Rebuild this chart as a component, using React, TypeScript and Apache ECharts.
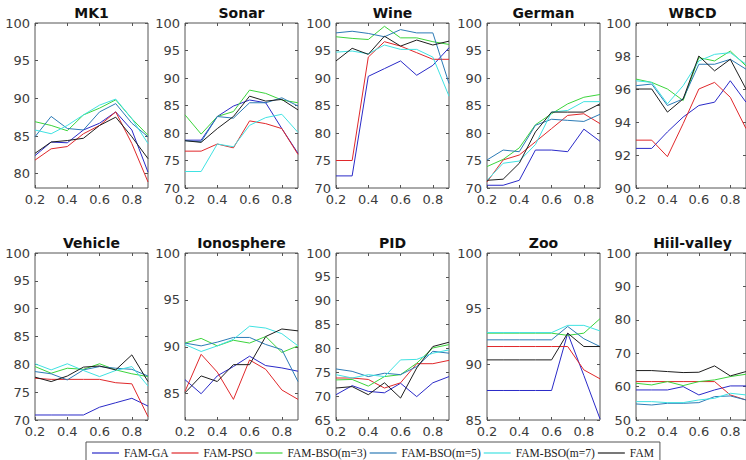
import React, { useEffect, useRef } from "react";
import * as echarts from "echarts";

const X_VALUES = [0.2, 0.3, 0.4, 0.5, 0.6, 0.7, 0.8, 0.9];
const X_TICKS = [0.2, 0.4, 0.6, 0.8];
const METHODS = ["FAM-GA", "FAM-PSO", "FAM-BSO(m=3)", "FAM-BSO(m=5)", "FAM-BSO(m=7)", "FAM"];
const COLORS = ["#2a2ac8", "#e0282b", "#3cd43c", "#2c7bb6", "#40e2e2", "#1e1e1e"];
const DATASETS = ["MK1", "Sonar", "Wine", "German", "WBCD", "Vehicle", "Ionosphere", "PID", "Zoo", "Hiil-valley"];

// order of rows in every dataset: GA, PSO, BSO(m=3), BSO(m=5), BSO(m=7), FAM
const MK1 = [
  [82.4, 84.2, 84.1, 85.8, 86.7, 88.2, 85.8, 80.2],
  [81.8, 83.3, 83.6, 85.3, 86.4, 88.2, 84.0, 78.9],
  [86.9, 86.4, 85.7, 87.8, 88.7, 89.8, 87.3, 85.1],
  [84.9, 87.6, 86.0, 85.8, 88.2, 89.3, 86.7, 84.9],
  [85.8, 85.3, 86.4, 87.8, 89.1, 89.9, 87.3, 84.0],
  [82.7, 84.2, 84.4, 84.7, 86.4, 87.5, 84.9, 82.0],
];
const SONAR = [
  [78.7, 78.7, 83.0, 84.9, 86.0, 85.5, 80.8, 76.3],
  [76.7, 76.7, 78.0, 77.3, 82.2, 81.7, 80.8, 76.1],
  [83.3, 79.8, 83.0, 83.9, 87.8, 87.2, 86.0, 85.5],
  [78.6, 78.4, 83.0, 82.7, 85.5, 85.5, 86.4, 84.9],
  [73.0, 73.0, 78.0, 77.5, 81.4, 82.8, 83.4, 80.1],
  [78.6, 78.3, 80.8, 83.0, 86.7, 85.8, 86.1, 84.2],
];
const WINE = [
  [72.2, 72.2, 90.3, 91.7, 93.1, 90.5, 92.3, 95.5],
  [75.0, 75.0, 93.8, 96.6, 95.8, 94.6, 93.4, 93.4],
  [97.5, 97.2, 97.0, 99.4, 97.3, 97.3, 96.6, 96.1],
  [98.2, 98.5, 98.1, 97.5, 98.8, 98.2, 98.2, 89.0],
  [94.7, 94.9, 94.4, 96.0, 95.2, 95.2, 93.8, 86.7],
  [93.1, 95.4, 94.3, 97.6, 95.8, 96.9, 96.0, 96.7],
];
const GERMAN = [
  [70.5, 70.5, 71.4, 76.9, 76.9, 76.6, 80.7, 78.5],
  [71.1, 75.1, 76.0, 78.4, 80.8, 83.2, 83.5, 81.7],
  [73.9, 75.2, 77.3, 81.5, 83.5, 85.3, 86.5, 87.0],
  [75.1, 76.9, 76.6, 81.4, 82.5, 82.3, 82.1, 83.4],
  [71.4, 74.5, 74.9, 77.9, 83.8, 84.1, 85.7, 85.7],
  [71.4, 71.6, 74.5, 80.2, 83.8, 83.8, 83.8, 85.3],
];
const WBCD = [
  [92.4, 92.4, 93.4, 94.3, 95.0, 95.2, 96.5, 95.2],
  [92.9, 92.9, 91.9, 93.9, 96.0, 96.4, 95.5, 93.6],
  [96.6, 96.4, 96.0, 95.3, 97.9, 97.7, 98.3, 97.4],
  [96.2, 96.3, 95.0, 95.4, 97.5, 97.5, 97.8, 97.2],
  [96.5, 96.4, 95.1, 96.2, 97.7, 98.1, 98.2, 97.5],
  [96.0, 96.0, 94.6, 95.4, 98.0, 97.1, 97.8, 96.0],
];
const VEHICLE = [
  [70.9, 70.9, 70.9, 70.9, 72.3, 73.1, 73.9, 72.5],
  [77.5, 77.3, 77.3, 77.3, 77.3, 76.7, 76.5, 70.6],
  [79.6, 78.4, 79.3, 79.1, 80.1, 79.0, 78.3, 77.8],
  [78.7, 78.3, 77.2, 79.0, 79.6, 79.3, 79.1, 77.9],
  [80.1, 79.0, 80.1, 78.9, 77.8, 78.9, 79.6, 76.1],
  [77.7, 76.9, 77.9, 79.5, 79.7, 79.0, 81.7, 76.9],
];
const IONOSPHERE = [
  [86.5, 85.0, 86.9, 87.9, 89.0, 88.0, 87.75, 87.4],
  [85.25, 89.2, 87.3, 84.4, 88.6, 87.6, 85.4, 84.4],
  [90.4, 90.9, 90.1, 90.7, 90.4, 91.1, 89.4, 90.1],
  [90.4, 90.1, 90.5, 91.0, 91.0, 90.25, 89.7, 86.3],
  [90.25, 89.5, 90.1, 90.8, 92.2, 92.0, 91.4, 90.1],
  [85.1, 86.9, 86.3, 88.1, 88.1, 91.1, 91.9, 91.7],
];
const PID = [
  [70.3, 72.2, 71.0, 70.7, 72.7, 69.9, 72.8, 74.1],
  [73.8, 73.8, 73.5, 71.7, 72.8, 76.8, 76.8, 77.5],
  [73.4, 73.5, 72.1, 74.1, 74.5, 76.9, 80.1, 80.8],
  [75.7, 75.2, 74.1, 74.8, 74.5, 76.2, 79.4, 79.0],
  [74.5, 73.8, 74.5, 74.1, 77.6, 77.7, 79.0, 79.7],
  [71.7, 72.0, 70.3, 72.8, 69.6, 75.9, 80.4, 81.3],
];
const ZOO = [
  [87.65, 87.65, 87.65, 87.65, 87.65, 92.8, 89.0, 85.1],
  [91.6, 91.6, 91.6, 91.6, 91.6, 91.6, 89.5, 88.7],
  [92.8, 92.8, 92.8, 92.8, 92.8, 92.6, 92.8, 94.1],
  [92.2, 92.2, 92.2, 92.2, 92.2, 93.4, 92.3, 91.6],
  [92.85, 92.85, 92.85, 92.85, 92.85, 93.5, 93.5, 93.0],
  [90.4, 90.4, 90.4, 90.4, 90.4, 92.8, 91.6, 91.6],
];
const HILL_VALLEY = [
  [59.0, 59.0, 59.0, 60.0, 57.5, 59.0, 60.2, 60.2],
  [61.5, 61.5, 61.5, 61.5, 61.5, 61.5, 57.5, 56.0],
  [61.0, 60.5, 61.5, 60.3, 61.5, 62.0, 63.0, 63.7],
  [54.8, 54.5, 55.0, 55.0, 55.2, 57.0, 57.2, 56.0],
  [55.5, 55.5, 55.2, 55.2, 56.0, 56.5, 58.0, 57.5],
  [64.8, 64.8, 64.5, 64.2, 64.3, 66.2, 63.2, 64.5],
];
const ALL_DATA = [MK1, SONAR, WINE, GERMAN, WBCD, VEHICLE, IONOSPHERE, PID, ZOO, HILL_VALLEY];

const Y_MIN = [78.1, 70, 70, 70, 90, 70, 82.2, 65, 85, 50];
const Y_MAX = [100, 100, 100, 100, 100, 100, 100, 100, 100, 100];
const Y_TICKS = [
  [80, 85, 90, 95, 100],
  [70, 75, 80, 85, 90, 95, 100],
  [70, 75, 80, 85, 90, 95, 100],
  [70, 75, 80, 85, 90, 95, 100],
  [90, 92, 94, 96, 98, 100],
  [70, 75, 80, 85, 90, 95, 100],
  [85, 90, 95, 100],
  [65, 70, 75, 80, 85, 90, 95, 100],
  [85, 90, 95, 100],
  [50, 60, 70, 80, 90, 100],
];

// layout (pixels)
const COL_LEFT = [35, 185, 336, 487, 636];
const ROW_TOP = [23, 253];
const ROW_HEIGHT = [165, 167];
const PLOT_W = 113;
const TITLE_Y = [12.5, 243];
const AXIS_COLOR = "#555555";
const LABEL_COLOR = "#3c3c3c";
const SANS = "DejaVu Sans";

export default function App() {
  const ref = useRef<HTMLDivElement>(null);
  useEffect(() => {
    if (!ref.current) return;
    const chart = echarts.init(ref.current, undefined, { renderer: "svg" });
    const grids: any[] = [];
    const xAxes: any[] = [];
    const yAxes: any[] = [];
    const xTop: any[] = [];
    const yRight: any[] = [];
    const series: any[] = [];
    const graphics: any[] = [];
    const tickStyle = { show: true, inside: true, length: 3, lineStyle: { color: AXIS_COLOR, width: 1 } };
    DATASETS.forEach((name, i) => {
      const row = Math.floor(i / 5);
      const col = i % 5;
      const left = COL_LEFT[col];
      const top = ROW_TOP[row];
      const height = ROW_HEIGHT[row];
      grids.push({ left, top, width: PLOT_W, height, show: true, borderColor: AXIS_COLOR, borderWidth: 1, backgroundColor: "transparent" });
      const xBase = { gridIndex: i, type: "value", min: 0.2, max: 0.9, splitLine: { show: false }, axisLine: { show: false } };
      xAxes.push({
        ...xBase,
        position: "bottom",
        axisTick: { ...tickStyle, customValues: X_TICKS },
        axisLabel: { customValues: X_TICKS, formatter: (v: number) => v.toFixed(1), fontFamily: SANS, fontSize: 13, color: LABEL_COLOR, margin: 5 },
      });
      xTop.push({ ...xBase, position: "top", axisTick: { ...tickStyle, customValues: X_TICKS }, axisLabel: { show: false } });
      const yBase = { gridIndex: i, type: "value", min: Y_MIN[i], max: Y_MAX[i], splitLine: { show: false }, axisLine: { show: false } };
      yAxes.push({
        ...yBase,
        position: "left",
        axisTick: { ...tickStyle, customValues: Y_TICKS[i] },
        axisLabel: { customValues: Y_TICKS[i], fontFamily: SANS, fontSize: 13, color: LABEL_COLOR, margin: 5 },
      });
      yRight.push({ ...yBase, position: "right", axisTick: { ...tickStyle, customValues: Y_TICKS[i] }, axisLabel: { show: false } });
      ALL_DATA[i].forEach((vals, m) => {
        series.push({
          type: "line",
          name: METHODS[m],
          xAxisIndex: i,
          yAxisIndex: i,
          data: X_VALUES.map((x, k) => [x, vals[k]]),
          symbol: "none",
          showSymbol: false,
          lineStyle: { width: 1, color: COLORS[m] },
          itemStyle: { color: COLORS[m] },
          silent: true,
        });
      });
      graphics.push({
        type: "text",
        x: left + PLOT_W / 2,
        y: TITLE_Y[row],
        style: {
          text: name,
          fill: "#111111",
          font: `bold 14px "${SANS}"`,
          align: "center",
          verticalAlign: "middle",
          textAlign: "center",
          textVerticalAlign: "middle",
        },
      });
    });
    chart.setOption({
      animation: false,
      backgroundColor: "#ffffff",
      grid: grids,
      xAxis: [...xAxes, ...xTop],
      yAxis: [...yAxes, ...yRight],
      series,
      graphic: graphics,
      legend: {
        data: METHODS.map((n, m) => ({ name: n, icon: "rect", itemStyle: { color: COLORS[m] } })),
        left: 86,
        top: 442,
        orient: "horizontal",
        itemWidth: 27,
        itemHeight: 1.2,
        itemGap: 3,
        padding: [4, 6, 8, 6],
        borderColor: "#555555",
        borderWidth: 1,
        selectedMode: false,
        textStyle: { fontFamily: "Liberation Serif", fontSize: 11.5, color: "#222222", lineHeight: 14 },
      },
    });
    return () => chart.dispose();
  }, []);
  return <div ref={ref} style={{ position: "fixed", left: 0, top: 0, width: 746, height: 460 }} />;
}
